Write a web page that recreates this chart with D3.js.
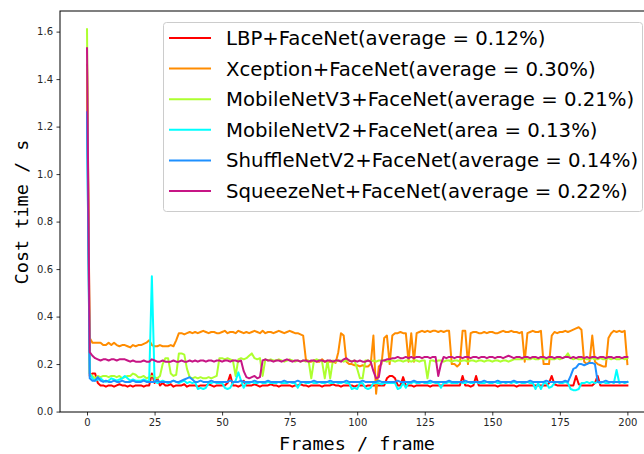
<!DOCTYPE html>
<html>
<head>
<meta charset="utf-8">
<script src="https://cdn.jsdelivr.net/npm/d3@7"></script>
<style>
  body { margin: 0; background: #fff; }
  svg { display: block; font-family: "DejaVu Sans", sans-serif; }
</style>
</head>
<body>
<svg id="canvas" width="644" height="454"></svg>
<script>
// per-frame cost time (s), frames 0..200
let lbp = [1.46, 0.15, 0.16, 0.16, 0.12, 0.11, 0.11, 0.105, 0.11, 0.11,
  0.105, 0.11, 0.115, 0.11, 0.11, 0.105, 0.11, 0.105, 0.11, 0.11,
  0.11, 0.105, 0.11, 0.11, 0.16, 0.12, 0.14, 0.11, 0.12, 0.11,
  0.11, 0.115, 0.105, 0.11, 0.11, 0.11, 0.115, 0.105, 0.11, 0.11,
  0.11, 0.105, 0.11, 0.11, 0.11, 0.115, 0.11, 0.105, 0.11, 0.11,
  0.11, 0.11, 0.12, 0.155, 0.11, 0.11, 0.105, 0.11, 0.13, 0.11,
  0.11, 0.11, 0.115, 0.11, 0.105, 0.11, 0.11, 0.11, 0.115, 0.11,
  0.11, 0.105, 0.11, 0.11, 0.11, 0.11, 0.105, 0.11, 0.11, 0.115,
  0.11, 0.11, 0.105, 0.11, 0.11, 0.11, 0.11, 0.105, 0.11, 0.11,
  0.11, 0.115, 0.11, 0.11, 0.105, 0.11, 0.11, 0.11, 0.11, 0.105,
  0.11, 0.11, 0.11, 0.105, 0.11, 0.11, 0.11, 0.11, 0.11, 0.11,
  0.11, 0.14, 0.15, 0.15, 0.14, 0.11, 0.11, 0.145, 0.11, 0.11,
  0.11, 0.105, 0.11, 0.11, 0.11, 0.11, 0.11, 0.105, 0.11, 0.11,
  0.11, 0.11, 0.11, 0.11, 0.11, 0.11, 0.11, 0.11, 0.11, 0.15,
  0.11, 0.11, 0.105, 0.11, 0.15, 0.11, 0.11, 0.11, 0.11, 0.11,
  0.11, 0.11, 0.105, 0.11, 0.11, 0.11, 0.11, 0.11, 0.11, 0.105,
  0.11, 0.11, 0.11, 0.11, 0.11, 0.11, 0.11, 0.11, 0.11, 0.11,
  0.11, 0.12, 0.15, 0.115, 0.11, 0.11, 0.11, 0.11, 0.11, 0.11,
  0.11, 0.15, 0.115, 0.11, 0.11, 0.11, 0.11, 0.11, 0.12, 0.15,
  0.11, 0.11, 0.11, 0.11, 0.11, 0.11, 0.11, 0.11, 0.11, 0.11,
  0.11];

let xception = [1.45, 0.31, 0.29, 0.29, 0.29, 0.29, 0.28, 0.28, 0.29, 0.28,
  0.29, 0.28, 0.275, 0.28, 0.28, 0.275, 0.27, 0.28, 0.275, 0.28,
  0.28, 0.285, 0.29, 0.30, 0.28, 0.275, 0.275, 0.28, 0.275, 0.275,
  0.275, 0.28, 0.275, 0.30, 0.33, 0.33, 0.325, 0.33, 0.335, 0.33,
  0.335, 0.33, 0.335, 0.34, 0.335, 0.33, 0.335, 0.335, 0.33, 0.33,
  0.335, 0.34, 0.33, 0.335, 0.335, 0.33, 0.34, 0.335, 0.33, 0.335,
  0.33, 0.335, 0.34, 0.335, 0.33, 0.34, 0.33, 0.335, 0.335, 0.33,
  0.335, 0.34, 0.335, 0.33, 0.335, 0.34, 0.335, 0.33, 0.33, 0.325,
  0.32, 0.22, 0.21, 0.21, 0.215, 0.21, 0.21, 0.22, 0.21, 0.21,
  0.21, 0.21, 0.205, 0.25, 0.33, 0.32, 0.21, 0.20, 0.20, 0.195,
  0.195, 0.19, 0.195, 0.19, 0.19, 0.20, 0.32, 0.075, 0.19, 0.20,
  0.31, 0.32, 0.20, 0.32, 0.33, 0.33, 0.335, 0.33, 0.33, 0.21,
  0.33, 0.21, 0.33, 0.335, 0.34, 0.335, 0.34, 0.335, 0.34, 0.34,
  0.335, 0.34, 0.335, 0.34, 0.34, 0.20, 0.20, 0.19, 0.20, 0.34,
  0.34, 0.20, 0.33, 0.335, 0.335, 0.33, 0.33, 0.335, 0.33, 0.335,
  0.335, 0.33, 0.33, 0.335, 0.34, 0.335, 0.335, 0.34, 0.335, 0.335,
  0.33, 0.335, 0.21, 0.33, 0.335, 0.34, 0.335, 0.335, 0.34, 0.20,
  0.20, 0.20, 0.32, 0.335, 0.33, 0.335, 0.335, 0.34, 0.335, 0.34,
  0.345, 0.35, 0.355, 0.345, 0.21, 0.20, 0.21, 0.32, 0.21, 0.20,
  0.195, 0.19, 0.19, 0.31, 0.33, 0.34, 0.335, 0.34, 0.335, 0.34,
  0.20];

let mobileV3 = [1.61, 0.16, 0.15, 0.14, 0.15, 0.145, 0.15, 0.15, 0.145, 0.15,
  0.15, 0.145, 0.15, 0.14, 0.145, 0.15, 0.15, 0.16, 0.155, 0.145,
  0.145, 0.15, 0.14, 0.145, 0.15, 0.145, 0.14, 0.15, 0.20, 0.225,
  0.225, 0.16, 0.15, 0.155, 0.245, 0.245, 0.24, 0.18, 0.145, 0.14,
  0.145, 0.14, 0.145, 0.14, 0.14, 0.145, 0.14, 0.145, 0.15, 0.225,
  0.225, 0.22, 0.225, 0.22, 0.215, 0.15, 0.22, 0.225, 0.22, 0.225,
  0.235, 0.245, 0.225, 0.22, 0.225, 0.15, 0.22, 0.215, 0.22, 0.215,
  0.215, 0.22, 0.215, 0.21, 0.215, 0.22, 0.215, 0.21, 0.215, 0.21,
  0.215, 0.21, 0.215, 0.14, 0.215, 0.22, 0.215, 0.21, 0.14, 0.215,
  0.14, 0.215, 0.21, 0.215, 0.215, 0.21, 0.215, 0.215, 0.21, 0.215,
  0.18, 0.14, 0.14, 0.215, 0.215, 0.21, 0.215, 0.21, 0.215, 0.215,
  0.215, 0.21, 0.215, 0.215, 0.21, 0.215, 0.215, 0.21, 0.215, 0.215,
  0.21, 0.215, 0.215, 0.21, 0.215, 0.215, 0.14, 0.215, 0.215, 0.21,
  0.215, 0.215, 0.21, 0.215, 0.215, 0.21, 0.215, 0.215, 0.21, 0.215,
  0.215, 0.21, 0.215, 0.215, 0.21, 0.215, 0.215, 0.21, 0.215, 0.215,
  0.21, 0.215, 0.215, 0.21, 0.215, 0.215, 0.21, 0.215, 0.22, 0.22,
  0.22, 0.22, 0.225, 0.22, 0.22, 0.225, 0.22, 0.22, 0.225, 0.22,
  0.22, 0.225, 0.22, 0.22, 0.225, 0.22, 0.225, 0.23, 0.245, 0.225,
  0.22, 0.225, 0.22, 0.22, 0.225, 0.22, 0.22, 0.225, 0.22, 0.22,
  0.225, 0.22, 0.22, 0.225, 0.22, 0.225, 0.22, 0.22, 0.225, 0.22,
  0.225];

let mobileV2 = [1.25, 0.16, 0.14, 0.13, 0.135, 0.14, 0.13, 0.125, 0.13, 0.14,
  0.135, 0.13, 0.135, 0.14, 0.15, 0.14, 0.13, 0.135, 0.13, 0.13,
  0.13, 0.135, 0.13, 0.13, 0.57, 0.13, 0.12, 0.125, 0.13, 0.125,
  0.12, 0.125, 0.13, 0.125, 0.12, 0.125, 0.13, 0.12, 0.125, 0.12,
  0.125, 0.095, 0.1, 0.095, 0.1, 0.12, 0.12, 0.125, 0.12, 0.12,
  0.12, 0.1, 0.095, 0.1, 0.12, 0.13, 0.165, 0.13, 0.1, 0.12,
  0.12, 0.125, 0.12, 0.12, 0.125, 0.12, 0.12, 0.125, 0.12, 0.12,
  0.12, 0.125, 0.12, 0.12, 0.12, 0.125, 0.12, 0.12, 0.1, 0.12,
  0.125, 0.12, 0.12, 0.125, 0.12, 0.12, 0.125, 0.12, 0.12, 0.125,
  0.12, 0.12, 0.125, 0.12, 0.12, 0.125, 0.12, 0.12, 0.095, 0.1,
  0.095, 0.12, 0.12, 0.1, 0.095, 0.1, 0.12, 0.12, 0.12, 0.115,
  0.12, 0.12, 0.12, 0.12, 0.12, 0.095, 0.1, 0.12, 0.1, 0.12,
  0.12, 0.125, 0.12, 0.12, 0.125, 0.12, 0.12, 0.12, 0.125, 0.12,
  0.12, 0.1, 0.12, 0.12, 0.125, 0.12, 0.12, 0.12, 0.125, 0.12,
  0.12, 0.125, 0.12, 0.12, 0.125, 0.12, 0.12, 0.12, 0.125, 0.12,
  0.12, 0.125, 0.12, 0.12, 0.125, 0.12, 0.125, 0.12, 0.125, 0.12,
  0.125, 0.12, 0.12, 0.125, 0.12, 0.12, 0.095, 0.12, 0.095, 0.12,
  0.12, 0.1, 0.105, 0.12, 0.125, 0.12, 0.12, 0.125, 0.12, 0.095,
  0.09, 0.09, 0.095, 0.12, 0.12, 0.125, 0.12, 0.125, 0.12, 0.125,
  0.12, 0.125, 0.12, 0.12, 0.125, 0.12, 0.175, 0.12, 0.125, 0.12,
  0.125];

let shuffleV2 = [1.26, 0.14, 0.13, 0.13, 0.145, 0.13, 0.125, 0.13, 0.125, 0.125,
  0.13, 0.125, 0.125, 0.13, 0.125, 0.125, 0.125, 0.13, 0.125, 0.125,
  0.125, 0.13, 0.125, 0.125, 0.125, 0.125, 0.13, 0.125, 0.125, 0.125,
  0.125, 0.125, 0.13, 0.125, 0.125, 0.13, 0.135, 0.14, 0.145, 0.135,
  0.125, 0.125, 0.13, 0.125, 0.125, 0.125, 0.13, 0.125, 0.125, 0.125,
  0.125, 0.125, 0.125, 0.13, 0.125, 0.125, 0.125, 0.13, 0.125, 0.125,
  0.125, 0.125, 0.13, 0.125, 0.125, 0.125, 0.125, 0.13, 0.125, 0.125,
  0.125, 0.125, 0.125, 0.13, 0.125, 0.125, 0.125, 0.125, 0.13, 0.125,
  0.125, 0.125, 0.125, 0.125, 0.13, 0.125, 0.125, 0.125, 0.125, 0.125,
  0.13, 0.125, 0.125, 0.125, 0.125, 0.125, 0.13, 0.125, 0.125, 0.125,
  0.125, 0.125, 0.13, 0.125, 0.125, 0.125, 0.125, 0.125, 0.13, 0.125,
  0.125, 0.125, 0.125, 0.125, 0.125, 0.13, 0.125, 0.125, 0.125, 0.125,
  0.125, 0.13, 0.125, 0.125, 0.125, 0.125, 0.125, 0.13, 0.125, 0.125,
  0.125, 0.125, 0.125, 0.125, 0.13, 0.125, 0.125, 0.125, 0.125, 0.125,
  0.13, 0.125, 0.125, 0.125, 0.125, 0.125, 0.125, 0.13, 0.125, 0.125,
  0.125, 0.125, 0.13, 0.125, 0.125, 0.125, 0.125, 0.125, 0.13, 0.125,
  0.125, 0.125, 0.125, 0.125, 0.13, 0.125, 0.125, 0.125, 0.125, 0.125,
  0.13, 0.125, 0.125, 0.125, 0.125, 0.125, 0.125, 0.13, 0.125, 0.15,
  0.18, 0.185, 0.20, 0.20, 0.195, 0.20, 0.205, 0.205, 0.20, 0.125,
  0.125, 0.125, 0.13, 0.125, 0.125, 0.125, 0.125, 0.125, 0.125, 0.125,
  0.125];

let squeeze = [1.53, 0.25, 0.235, 0.225, 0.22, 0.215, 0.22, 0.22, 0.215, 0.22,
  0.22, 0.215, 0.22, 0.22, 0.22, 0.215, 0.21, 0.215, 0.21, 0.21,
  0.21, 0.215, 0.21, 0.21, 0.22, 0.215, 0.21, 0.21, 0.215, 0.21,
  0.21, 0.21, 0.215, 0.21, 0.21, 0.215, 0.21, 0.21, 0.215, 0.21,
  0.215, 0.21, 0.215, 0.215, 0.21, 0.215, 0.215, 0.21, 0.215, 0.215,
  0.21, 0.215, 0.215, 0.21, 0.215, 0.215, 0.21, 0.215, 0.17, 0.145,
  0.14, 0.145, 0.15, 0.14, 0.145, 0.215, 0.22, 0.215, 0.215, 0.21,
  0.215, 0.215, 0.21, 0.215, 0.22, 0.215, 0.21, 0.215, 0.215, 0.21,
  0.215, 0.215, 0.21, 0.215, 0.215, 0.21, 0.215, 0.215, 0.21, 0.215,
  0.215, 0.21, 0.215, 0.215, 0.21, 0.22, 0.225, 0.215, 0.21, 0.215,
  0.21, 0.215, 0.21, 0.21, 0.215, 0.21, 0.17, 0.14, 0.145, 0.215,
  0.215, 0.22, 0.22, 0.225, 0.225, 0.23, 0.225, 0.225, 0.23, 0.225,
  0.23, 0.225, 0.23, 0.23, 0.225, 0.23, 0.23, 0.225, 0.23, 0.23,
  0.15, 0.2, 0.23, 0.225, 0.23, 0.23, 0.225, 0.23, 0.23, 0.225,
  0.23, 0.23, 0.225, 0.23, 0.23, 0.225, 0.23, 0.23, 0.225, 0.23,
  0.23, 0.225, 0.23, 0.23, 0.225, 0.23, 0.235, 0.23, 0.225, 0.23,
  0.23, 0.225, 0.23, 0.23, 0.225, 0.23, 0.23, 0.225, 0.23, 0.23,
  0.225, 0.23, 0.23, 0.225, 0.23, 0.23, 0.225, 0.23, 0.23, 0.225,
  0.23, 0.225, 0.23, 0.23, 0.225, 0.23, 0.225, 0.23, 0.23, 0.225,
  0.23, 0.23, 0.225, 0.23, 0.23, 0.225, 0.23, 0.23, 0.225, 0.23,
  0.23];

let seriesNames = [
  'LBP+FaceNet(average = 0.12%)',
  'Xception+FaceNet(average = 0.30%)',
  'MobileNetV3+FaceNet(average = 0.21%)',
  'MobileNetV2+FaceNet(area = 0.13%)',
  'ShuffleNetV2+FaceNet(average = 0.14%)',
  'SqueezeNet+FaceNet(average = 0.22%)'
];
let seriesColors = ['#ff0000', '#ff8c00', '#adff2f', '#00ffff', '#1e90ff', '#c71585'];
let seriesValues = [lbp, xception, mobileV3, mobileV2, shuffleV2, squeeze];

let xTicks = [0, 25, 50, 75, 100, 125, 150, 175, 200];
let yTicks = [0.0, 0.2, 0.4, 0.6, 0.8, 1.0, 1.2, 1.4, 1.6];

let svg = d3.select('#canvas');

let plotLeft = 60, plotRight = 654.4, plotTop = 11, plotBottom = 412;

let x = d3.scaleLinear().domain([-10, 210]).range([plotLeft, plotRight]);
let y = d3.scaleLinear().domain([-0.0018, 1.6868]).range([plotBottom, plotTop]);

// lines, drawn in legend order so magenta ends on top
let line = d3.line()
  .x((d, i) => x(i))
  .y(d => y(d));

let plot = svg.append('g');
seriesValues.forEach((vals, k) => {
  plot.append('path')
    .datum(vals)
    .attr('fill', 'none')
    .attr('stroke', seriesColors[k])
    .attr('stroke-width', 2)
    .attr('stroke-linejoin', 'round')
    .attr('stroke-linecap', 'square')
    .attr('d', line);
});

// axes
let xAxis = d3.axisBottom(x).tickValues(xTicks)
  .tickSize(3.5).tickSizeOuter(0).tickPadding(3.5)
  .tickFormat(d3.format('d'));
let yAxis = d3.axisLeft(y).tickValues(yTicks)
  .tickSize(3.5).tickSizeOuter(0).tickPadding(3.5)
  .tickFormat(d3.format('.1f'));

let gx = svg.append('g').attr('transform', 'translate(0,' + plotBottom + ')').call(xAxis);
let gy = svg.append('g').attr('transform', 'translate(' + plotLeft + ',0)').call(yAxis);

[gx, gy].forEach(g => {
  g.select('.domain').remove();
  g.selectAll('.tick line').attr('stroke', '#000').attr('stroke-width', 0.8);
  g.selectAll('.tick text')
    .attr('fill', '#262626')
    .style('font-family', '"DejaVu Sans", sans-serif')
    .style('font-size', '10px');
});

// spines (right one falls outside the window)
svg.append('rect')
  .attr('x', plotLeft).attr('y', plotTop)
  .attr('width', plotRight - plotLeft).attr('height', plotBottom - plotTop)
  .attr('fill', 'none').attr('stroke', '#000').attr('stroke-width', 1);

// axis titles
svg.append('text')
  .attr('x', 357).attr('y', 450)
  .attr('text-anchor', 'middle')
  .style('font-family', '"DejaVu Sans Mono", monospace')
  .style('font-size', '18.5px')
  .text('Frames / frame');

svg.append('text')
  .attr('transform', 'translate(28,212) rotate(-90)')
  .attr('text-anchor', 'middle')
  .style('font-family', '"DejaVu Sans Mono", monospace')
  .style('font-size', '18.5px')
  .text('Cost time / s');

// legend
let legend = svg.append('g');
legend.append('rect')
  .attr('x', 163.5).attr('y', 22.5)
  .attr('width', 479).attr('height', 189)
  .attr('rx', 3).attr('ry', 3)
  .attr('fill', '#fff').attr('fill-opacity', 0.8)
  .attr('stroke', '#cccccc').attr('stroke-width', 1);

seriesNames.forEach((name, k) => {
  let cy = 38 + k * 30.6;
  legend.append('line')
    .attr('x1', 169).attr('x2', 211)
    .attr('y1', cy).attr('y2', cy)
    .attr('stroke', seriesColors[k])
    .attr('stroke-width', 2);
  legend.append('text')
    .attr('x', 226).attr('y', cy)
    .attr('dy', '0.36em')
    .style('font-size', '19.7px')
    .attr('fill', '#000')
    .text(name);
});
</script>
</body>
</html>
